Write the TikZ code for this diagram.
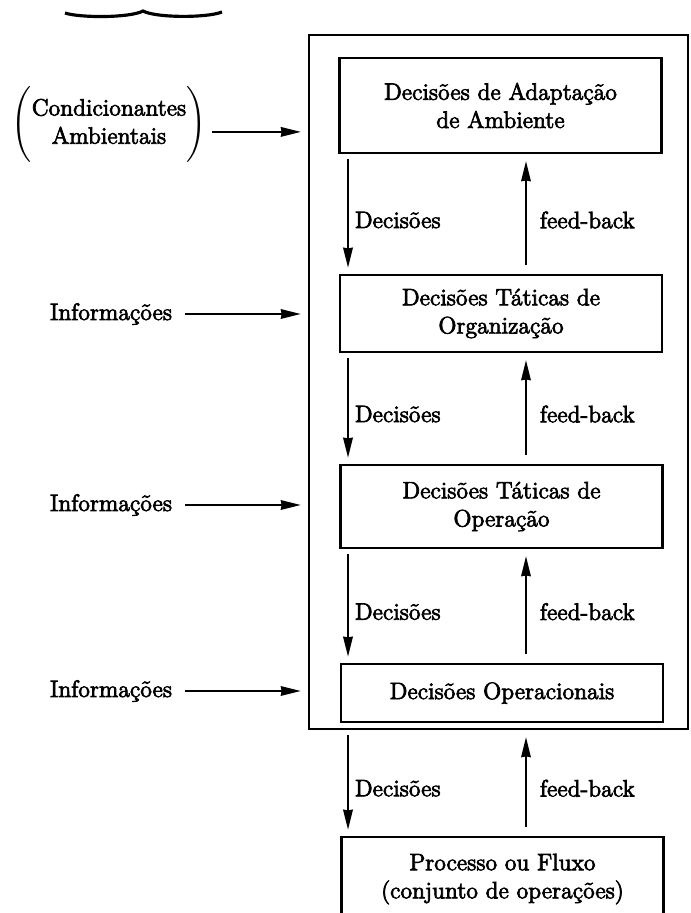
\documentclass[tikz,border=0pt]{standalone}
\usepackage{amsmath}
\usepackage{fontspec}
\setmainfont{Latin Modern Roman}[RawFeature={embolden=3}]
\usepackage{tikz}
\usetikzlibrary{arrows.meta}

\tikzset{
    caixa/.style={draw, line width=1.3pt, minimum width=6.44cm, align=center, inner sep=0pt},
    puscica/.style={-{Stealth[length=0.4cm, width=0.19cm, inset=0.4pt]}, line width=1.2pt},
}

\begin{document}
\begin{tikzpicture}[x=0.02cm, y=-0.02cm, font=\fontsize{13.5pt}{16pt}\selectfont]
                \clip (0, 0) rectangle (690, 913);
                % zavih zgoraj
                \draw[line width=1.8pt] (65, 13) .. controls (80, 18) and (130, 18) .. (143, 11) .. controls (156, 18) and (207, 18) .. (222, 12);

                % zunanji okvir
                \node (okvir) at (498.5, 382) [draw, line width=1.3pt, minimum width=7.58cm, minimum height=13.88cm] {};

                % škatle
                \node (b1) at (500.5, 105.5) [caixa, minimum height=1.9cm] {Decisões de Adaptação\\de Ambiente};
                \node (b2) at (501, 313.5) [caixa, minimum height=1.54cm] {Decisões Táticas de\\Organização};
                \node (b3) at (501.5, 506.5) [caixa, minimum height=1.66cm] {Decisões Táticas de\\Operação};
                \node (b4) at (502, 693) [caixa, minimum height=1.16cm] {Decisões Operacionais};
                \node (proces) at (502.5, 879) [caixa, minimum height=1.68cm] {Processo ou Fluxo\\(conjunto de operações)};

                % vhodi levo
                \node (cond) at (109, 124) {$\left(\rule[-17.5pt]{0pt}{42pt}\vcenter{\hbox{\begin{tabular}{@{}c@{}}Condicionantes\\Ambientais\end{tabular}}}\right)$};
                \coordinate (c1) at ([yshift=-4.5pt]cond.east);
                \draw[puscica, shorten >=4pt] (c1) -- (c1 -| okvir.west);
                \node (i1) at (111, 314) {Informações};
                \node (i2) at (111, 505) {Informações};
                \node (i3) at (111, 691) {Informações};
                \foreach \i in {i1, i2, i3}
                    \draw[puscica, shorten <=4pt, shorten >=4pt] (\i.east) -- (\i.east -| okvir.west);

                % navpične puščice
                \coordinate (dol) at (348, 0);
                \coordinate (gor) at (526, 0);
                \foreach \a/\b in {b1/b2, b2/b3, b3/b4, okvir/proces} {
                    \draw[puscica, shorten <=3pt, shorten >=3.5pt] (\a.south -| dol) -- node[pos=0.55, right] {Decisões} (\b.north -| dol);
                    \draw[puscica, shorten <=5pt, shorten >=4pt] (\b.north -| gor) -- node[pos=0.45, right=4pt] {feed-back} (\a.south -| gor);
                }
            \end{tikzpicture}
\end{document}
